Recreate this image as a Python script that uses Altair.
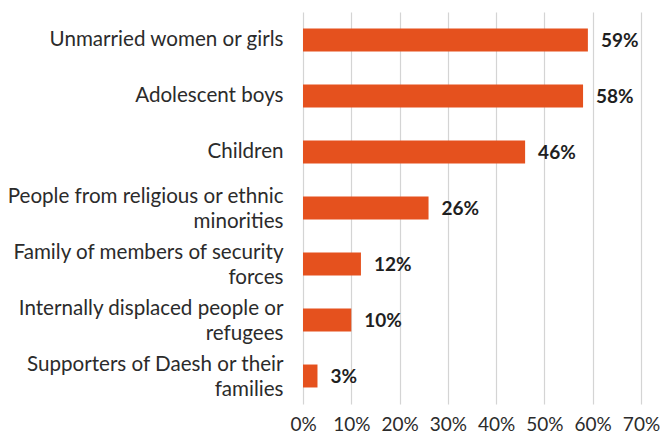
import altair as alt
import pandas as pd

categories = [
    "Unmarried women or girls",
    "Adolescent boys",
    "Children",
    "People from religious or ethnic|minorities",
    "Family of members of security|forces",
    "Internally displaced people or|refugees",
    "Supporters of Daesh or their|families",
]
values = [0.59, 0.58, 0.46, 0.26, 0.12, 0.10, 0.03]
value_labels = ["59%", "58%", "46%", "26%", "12%", "10%", "3%"]
x_ticks = [0, 0.1, 0.2, 0.3, 0.4, 0.5, 0.6, 0.7]

df = pd.DataFrame({"category": categories, "value": values, "label": value_labels})

FONT = "Lato"
BAR = "#E5511E"

y = alt.Y(
    "category:N",
    sort=categories,
    title=None,
    scale=alt.Scale(paddingInner=0.59, paddingOuter=0.295),
    axis=alt.Axis(
        labelExpr="split(datum.label, '|')",
        labelFont=FONT,
        labelFontSize=20.6,
        labelColor="#2b2b2b",
        labelPadding=20,
        labelLineHeight=25,
        labelLimit=400,
        labelOffset={"condition": {"test": "indexof(datum.value, '|') >= 0", "value": -11}, "value": 0},
        ticks=False,
        domain=False,
        grid=False,
    ),
)

x = alt.X(
    "value:Q",
    title=None,
    scale=alt.Scale(domain=[0, 0.7], nice=False),
    axis=alt.Axis(
        values=x_ticks,
        format=".0%",
        labelFont=FONT,
        labelFontSize=19,
        labelColor="#2b2b2b",
        labelPadding=11,
        labelOverlap=False,
        labelFlush=False,
        ticks=False,
        domain=False,
        grid=True,
        gridColor="#d4d4d4",
        gridWidth=1.2,
    ),
)

bars = alt.Chart(df).mark_bar(color=BAR).encode(x=x, y=y)

text = alt.Chart(df).mark_text(
    align="left", baseline="middle", dx=13, dy=1,
    font=FONT, fontSize=19, fontWeight="bold", color="#1f1f1f",
).encode(x="value:Q", y=alt.Y("category:N", sort=categories), text="label:N")

chart = (
    alt.layer(bars, text)
    .properties(
        width=338,
        height=392,
        autosize=alt.AutoSizeParams(type="none"),
        padding={"left": 295, "top": 4, "right": 19, "bottom": 31},
    )
    .configure_view(stroke=None)
)

chart.save("out.html", embed_options={"renderer": "svg", "actions": False})
